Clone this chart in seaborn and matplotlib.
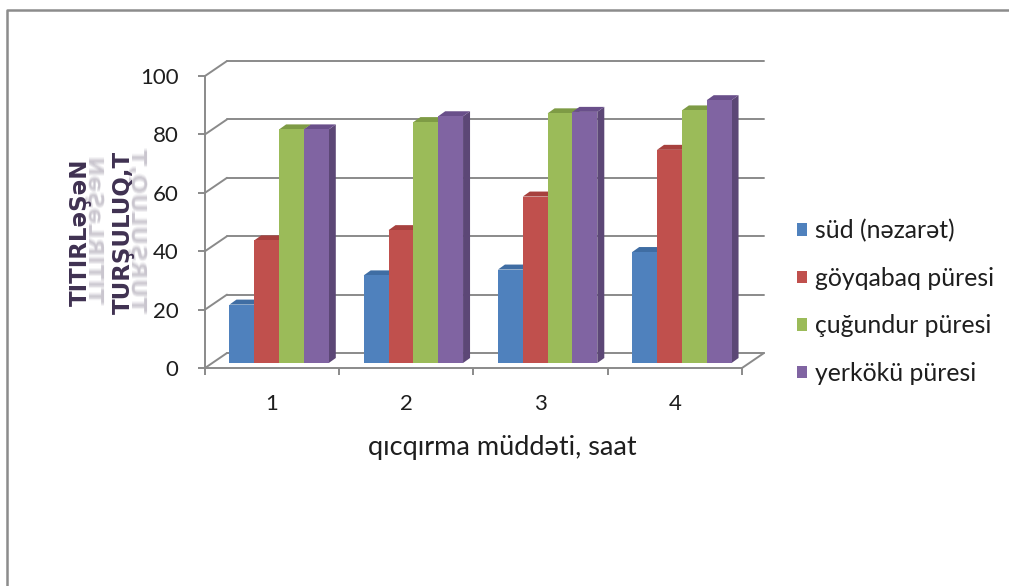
import numpy as np
import pandas as pd
import matplotlib
matplotlib.use("Agg")
import matplotlib.pyplot as plt
from matplotlib.patches import Polygon, Patch, PathPatch
from matplotlib.lines import Line2D
from matplotlib.textpath import TextPath
from matplotlib.font_manager import FontProperties
from matplotlib.transforms import IdentityTransform, Affine2D
import seaborn as sns

# ---- data -------------------------------------------------------------
hours = ["1", "2", "3", "4"]
series = ["süd (nəzarət)", "göyqabaq püresi", "çuğundur püresi", "yerkökü püresi"]
sud = [20, 30, 32, 38]
goyqabaq = [42, 45.5, 57, 73]
cugundur = [80, 82.5, 85.5, 86.5]
yerkoku = [80, 84.5, 86, 90]
y_ticks = [0, 20, 40, 60, 80, 100]
y_title = ["TITIRLəŞəN", "TURŞULUQ,T"]
x_title = "qıcqırma müddəti, saat"

front_colors = ["#4F81BD", "#C0504D", "#9BBB59", "#8064A2"]
top_colors = ["#3F6DA3", "#A7413E", "#7E9B45", "#694F8A"]
side_colors = ["#385D8A", "#8C3836", "#71893F", "#5C4776"]

values = [sud, goyqabaq, cugundur, yerkoku]
df = pd.DataFrame({
    "saat": np.repeat([hours], len(series), axis=0).ravel(),
    "nümunə": np.repeat(series, len(hours)),
    "turşuluq": np.concatenate(values),
})

# ---- figure ------------------------------------------------------------
W, H, DPI = 1009, 586, 100
sns.set_theme(style="white")
plt.rcParams["font.family"] = ["Lato", "DejaVu Sans"]

GRID = "#8a8a8a"
TEXT = "#1e1e1e"
TITLE_COLOR = "#3F3151"

fig = plt.figure(figsize=(W / DPI, H / DPI), dpi=DPI)
fig.patch.set_facecolor("white")

def fx(x):
    return x / W

def fy(y):
    return 1 - y / H

ax = fig.add_axes([fx(205), fy(368), (742 - 205) / W, (368 - 76) / H])
ax.patch.set_visible(False)

sns.barplot(data=df, x="saat", y="turşuluq", hue="nümunə", hue_order=series,
            palette=front_colors, saturation=1, width=0.74, linewidth=0,
            ax=ax, legend=False)

ax.set_xlim(-0.5, 3.5)
ax.set_ylim(0, 100)
ax.set_yticks(y_ticks)
ax.set_xticks(range(len(hours)), hours)
ax.set_xticks([-0.5, 0.5, 1.5, 2.5, 3.5], minor=True)

for side in ["top", "right"]:
    ax.spines[side].set_visible(False)
for side in ["left", "bottom"]:
    ax.spines[side].set_color(GRID)
    ax.spines[side].set_linewidth(1.4)

ax.tick_params(axis="y", length=5, width=1.4, color=GRID, pad=14,
               labelsize=16, labelcolor=TEXT, left=True)
ax.tick_params(axis="x", which="major", length=0, pad=19,
               labelsize=16, labelcolor=TEXT)
ax.tick_params(axis="x", which="minor", length=5, width=1.4, color=GRID,
               bottom=True)

# x axis title
ax.set_xlabel(x_title, fontsize=19.5, color=TEXT)
ax.xaxis.set_label_coords((502 - 205) / 537, (368 - 448) / 292)
ax.xaxis.label.set_va("center")
ax.set_ylabel("")

# y axis title: two rotated lines, each with a soft mirrored reflection
title_font = FontProperties(family="DejaVu Sans", weight="bold", size=16.5)
title_px = 16.5 * DPI / 72
title_center_y = 232
for line, base_x in zip(y_title, [87, 130]):
    fig.text(fx(base_x), fy(title_center_y), line, rotation=90,
             rotation_mode="anchor", ha="center", va="baseline",
             fontproperties=title_font, color=TITLE_COLOR)
    tp = TextPath((0, 0), line, size=title_px, prop=title_font)
    ext = tp.get_extents()
    half = (ext.x0 + ext.x1) / 2
    for shift, alpha in [(0.0, 0.10), (1.2, 0.07), (-1.2, 0.07), (2.4, 0.05)]:
        mirror = (Affine2D().translate(-half + shift, 0)
                  .scale(1, -0.9)
                  + Affine2D(np.array([[0, -1, 0], [1, 0, 0], [0, 0, 1]]))
                  + Affine2D().translate(base_x + 2, H - title_center_y))
        fig.add_artist(PathPatch(tp, transform=mirror, fc=TITLE_COLOR,
                                 ec="none", alpha=alpha))

# ---- 3D depth --------------------------------------------------------
fig.canvas.draw()
to_disp = ax.transData.transform
DX, DY = 22, 15        # depth of back wall / floor in pixels
FX, FY = 7, 5          # front face of bars sits this far back
BX, BY = 7, 5          # depth of bars themselves

ident = IdentityTransform()

# back wall gridlines and their connectors to the front axis
x0d, _ = to_disp((-0.5, 0))
x1d, _ = to_disp((3.5, 0))
for t in y_ticks:
    _, yd = to_disp((-0.5, t))
    ax.add_line(Line2D([x0d + DX, x1d + DX], [yd + DY, yd + DY],
                       transform=ident, color=GRID, lw=1.4, zorder=0.5,
                       clip_on=False))
    ax.add_line(Line2D([x0d, x0d + DX], [yd, yd + DY], transform=ident,
                       color=GRID, lw=1.4, zorder=0.5, clip_on=False))
_, ybase = to_disp((0, 0))
ax.add_line(Line2D([x1d, x1d + DX], [ybase, ybase + DY], transform=ident,
                   color=GRID, lw=1.4, zorder=0.5, clip_on=False))

# bars: sort by x so nearer-right bars hide the sides of their neighbours
bars = sorted(ax.patches, key=lambda p: p.get_x())
for k, bar in enumerate(bars):
    fc = matplotlib.colors.to_hex(bar.get_facecolor())
    ci = [c.lower() for c in front_colors].index(fc.lower())
    bx0, by0 = to_disp((bar.get_x(), 0))
    bx1, by1 = to_disp((bar.get_x() + bar.get_width(), bar.get_height()))
    bx0 += FX; bx1 += FX; by0 += FY; by1 += FY
    side = [(bx1, by0), (bx1 + BX, by0 + BY), (bx1 + BX, by1 + BY), (bx1, by1)]
    top = [(bx0, by1), (bx1, by1), (bx1 + BX, by1 + BY), (bx0 + BX, by1 + BY)]
    z = 2 + 3 * k
    ax.add_patch(Polygon(side, closed=True, transform=ident, fc=side_colors[ci],
                         ec="none", zorder=z, clip_on=False))
    ax.add_patch(Polygon(top, closed=True, transform=ident, fc=top_colors[ci],
                         ec="none", zorder=z + 1, clip_on=False))
    bar.set_transform(ident)
    bar.set_xy((bx0, by0))
    bar.set_width(bx1 - bx0)
    bar.set_height(by1 - by0)
    bar.set_zorder(z + 2)
    bar.set_clip_on(False)

# ---- legend ----------------------------------------------------------
handles = [Patch(facecolor=c, edgecolor="none") for c in front_colors]
fig.legend(handles, series, loc="center left",
           bbox_to_anchor=(fx(797), fy(302)), frameon=False, fontsize=17.8,
           handlelength=0.42, handleheight=0.42, handletextpad=0.32,
           labelspacing=0.99, borderpad=0, borderaxespad=0, labelcolor=TEXT)

# chart-area border (top and left edges)
fig.add_artist(Line2D([fx(7), fx(7), fx(W + 5)], [fy(H + 5), fy(10), fy(10)],
                      transform=fig.transFigure, color="#8c8c8c", lw=1.8))

fig.savefig("out.png", dpi=DPI)
